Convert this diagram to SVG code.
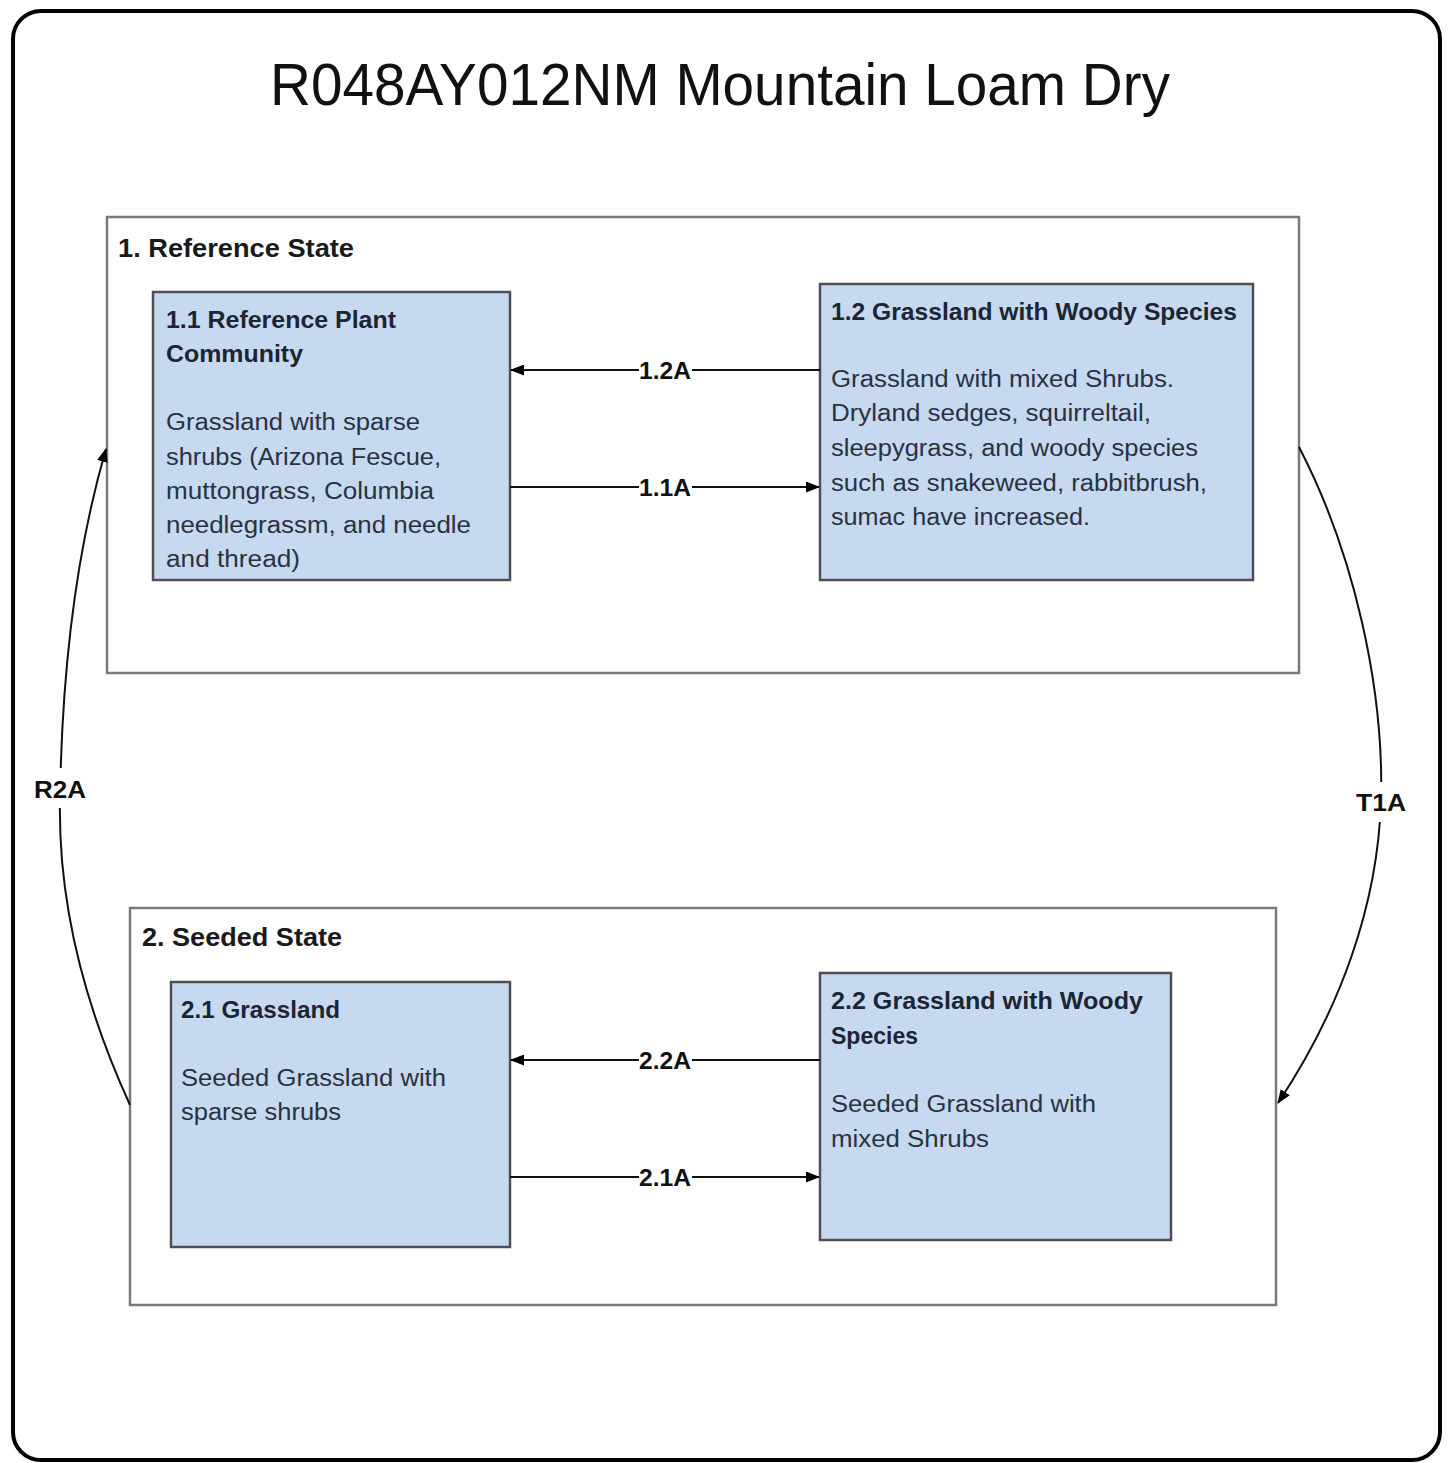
<svg xmlns="http://www.w3.org/2000/svg" width="1449" height="1463" viewBox="0 0 1449 1463">
<defs>
<marker id="ah" markerWidth="14" markerHeight="11" refX="13" refY="5.5" orient="auto" markerUnits="userSpaceOnUse">
<path d="M0,0 L14,5.5 L0,11 Z" fill="#000"/>
</marker>
<style>
text{font-family:"Liberation Sans",Arial,sans-serif;}
.title{font-size:60px;fill:#111;}
.state{fill:#fff;stroke:#7a7a7a;stroke-width:2.5;}
.slabel{font-size:25px;font-weight:bold;fill:#1a1a1a;}
.node{fill:#c6d9f0;stroke:#4d4f55;stroke-width:2.5;}
.nt{font-size:24px;font-weight:bold;fill:#1c2533;}
.nb{font-size:23px;fill:#2a3140;}
.conn{fill:none;stroke:#111;stroke-width:2;}
.lbl{font-size:24px;font-weight:bold;fill:#111;text-anchor:middle;}
</style>
</defs>
<rect x="0" y="0" width="1449" height="1463" fill="#fff"/>
<rect x="13" y="11" width="1427" height="1449" rx="28" ry="28" fill="#fff" stroke="#000" stroke-width="4"/>
<text class="title" x="270" y="105" textLength="900" lengthAdjust="spacingAndGlyphs">R048AY012NM Mountain Loam Dry</text>

<g id="state1">
<rect class="state" x="107" y="217" width="1192" height="456"/>
<text class="slabel" x="118" y="257" textLength="236" lengthAdjust="spacingAndGlyphs">1. Reference State</text>
</g>
<g id="state2">
<rect class="state" x="130" y="908" width="1146" height="397"/>
<text class="slabel" x="142" y="946" textLength="200" lengthAdjust="spacingAndGlyphs">2. Seeded State</text>
</g>

<g id="node11">
<rect class="node" x="153" y="292" width="357" height="288"/>
<text class="nt" x="166" y="328" textLength="230" lengthAdjust="spacingAndGlyphs">1.1 Reference Plant</text>
<text class="nt" x="166" y="362" textLength="137" lengthAdjust="spacingAndGlyphs">Community</text>
<text class="nb" x="166" y="430" textLength="254" lengthAdjust="spacingAndGlyphs">Grassland with sparse</text>
<text class="nb" x="166" y="465" textLength="275" lengthAdjust="spacingAndGlyphs">shrubs (Arizona Fescue,</text>
<text class="nb" x="166" y="499" textLength="268" lengthAdjust="spacingAndGlyphs">muttongrass, Columbia</text>
<text class="nb" x="166" y="533" textLength="305" lengthAdjust="spacingAndGlyphs">needlegrassm, and needle</text>
<text class="nb" x="166" y="567" textLength="134" lengthAdjust="spacingAndGlyphs">and thread)</text>
</g>

<g id="node12">
<rect class="node" x="820" y="284" width="433" height="296"/>
<text class="nt" x="831" y="320" textLength="406" lengthAdjust="spacingAndGlyphs">1.2 Grassland with Woody Species</text>
<text class="nb" x="831" y="387" textLength="343" lengthAdjust="spacingAndGlyphs">Grassland with mixed Shrubs.</text>
<text class="nb" x="831" y="421" textLength="320" lengthAdjust="spacingAndGlyphs">Dryland sedges, squirreltail,</text>
<text class="nb" x="831" y="456" textLength="367" lengthAdjust="spacingAndGlyphs">sleepygrass, and woody species</text>
<text class="nb" x="831" y="491" textLength="376" lengthAdjust="spacingAndGlyphs">such as snakeweed, rabbitbrush,</text>
<text class="nb" x="831" y="525" textLength="259" lengthAdjust="spacingAndGlyphs">sumac have increased.</text>
</g>

<g id="node21">
<rect class="node" x="171" y="982" width="339" height="265"/>
<text class="nt" x="181" y="1018" textLength="159" lengthAdjust="spacingAndGlyphs">2.1 Grassland</text>
<text class="nb" x="181" y="1086" textLength="265" lengthAdjust="spacingAndGlyphs">Seeded Grassland with</text>
<text class="nb" x="181" y="1120" textLength="160" lengthAdjust="spacingAndGlyphs">sparse shrubs</text>
</g>

<g id="node22">
<rect class="node" x="820" y="973" width="351" height="267"/>
<text class="nt" x="831" y="1009" textLength="312" lengthAdjust="spacingAndGlyphs">2.2 Grassland with Woody</text>
<text class="nt" x="831" y="1044" textLength="87" lengthAdjust="spacingAndGlyphs">Species</text>
<text class="nb" x="831" y="1112" textLength="265" lengthAdjust="spacingAndGlyphs">Seeded Grassland with</text>
<text class="nb" x="831" y="1147" textLength="158" lengthAdjust="spacingAndGlyphs">mixed Shrubs</text>
</g>

<g id="connectors">
<path class="conn" d="M820,370 H511" marker-end="url(#ah)"/>
<path class="conn" d="M510,487 H819" marker-end="url(#ah)"/>
<path class="conn" d="M820,1060 H511" marker-end="url(#ah)"/>
<path class="conn" d="M510,1177 H819" marker-end="url(#ah)"/>
<path class="conn" d="M1299,447 C1355,555 1384,690 1381,800 C1378,905 1340,1010 1278,1103" marker-end="url(#ah)"/>
<path class="conn" d="M130,1105 C82,1000 58,900 60,800 C62,660 78,545 106,449" marker-end="url(#ah)"/>
<rect x="639" y="358" width="53" height="24" fill="#fff"/>
<text class="lbl" x="665" y="379" textLength="52" lengthAdjust="spacingAndGlyphs">1.2A</text>
<rect x="639" y="475" width="53" height="24" fill="#fff"/>
<text class="lbl" x="665" y="496" textLength="52" lengthAdjust="spacingAndGlyphs">1.1A</text>
<rect x="639" y="1048" width="53" height="24" fill="#fff"/>
<text class="lbl" x="665" y="1069" textLength="52" lengthAdjust="spacingAndGlyphs">2.2A</text>
<rect x="639" y="1165" width="53" height="24" fill="#fff"/>
<text class="lbl" x="665" y="1186" textLength="52" lengthAdjust="spacingAndGlyphs">2.1A</text>
<rect x="1355" y="782" width="52" height="40" fill="#fff"/>
<text class="lbl" x="1381" y="811" textLength="50" lengthAdjust="spacingAndGlyphs">T1A</text>
<rect x="34" y="768" width="52" height="40" fill="#fff"/>
<text class="lbl" x="60" y="798" textLength="52" lengthAdjust="spacingAndGlyphs">R2A</text>
</g>
</svg>
